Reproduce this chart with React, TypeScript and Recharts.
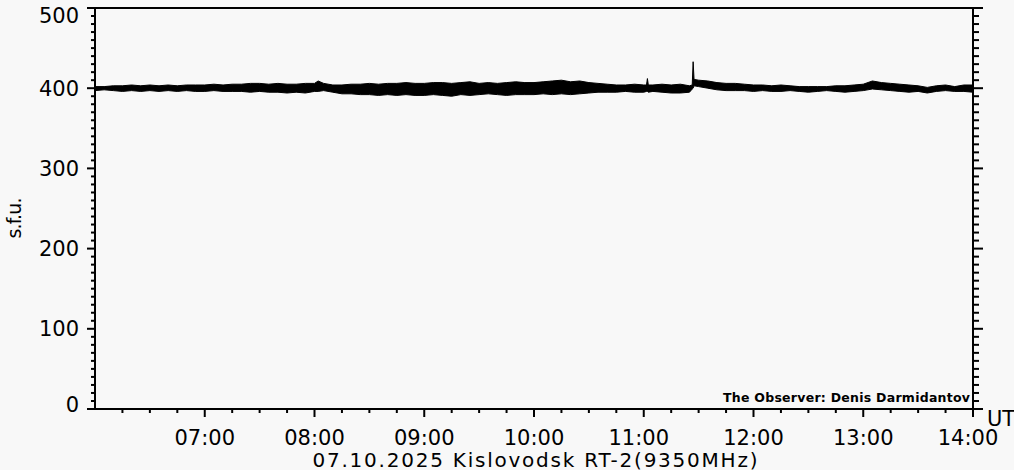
import React from 'react';
import { ComposedChart, Area, XAxis, YAxis } from 'recharts';

// time in minutes after 00:00 UT
const times = [
  360, 365, 370, 375, 380, 385, 390, 395, 400, 405, 410, 415,
  420, 425, 430, 435, 440, 445, 450, 455, 460, 465, 470, 475,
  480, 482, 485, 490, 495, 500, 505, 510, 515, 520, 525, 530, 535,
  540, 545, 550, 555, 560, 565, 570, 575, 580, 585, 590, 595,
  600, 605, 610, 615, 620, 625, 630, 635, 640, 645, 650, 655,
  660, 661.5, 662, 662.5, 665, 670, 675, 680, 685, 686.5, 687, 687.5, 690, 695, 700, 705, 710, 715,
  720, 725, 730, 735, 740, 745, 750, 755, 760, 765, 770, 775,
  780, 785, 790, 795, 800, 805, 810, 815, 820, 825, 830, 835, 840,
];
const fluxLow = [
  397, 398, 397, 396, 397, 396, 397, 396, 397, 396, 397, 396,
  396, 397, 396, 396, 396, 395, 396, 395, 395, 394, 395, 394,
  396, 396, 397, 395, 393, 393, 392, 392, 391, 392, 391, 392, 391,
  391, 392, 391, 390, 392, 391, 392, 393, 392, 391, 392, 392,
  392, 393, 392, 393, 392, 393, 394, 395, 395, 395, 396, 395,
  395, 396, 396, 395, 396, 395, 394, 394, 395, 399, 400, 403, 402, 400, 398, 397, 397, 397,
  396, 397, 396, 396, 397, 396, 395, 396, 397, 396, 395, 396,
  397, 399, 398, 397, 396, 395, 396, 394, 396, 397, 396, 396, 395,
];
const fluxHigh = [
  402, 402, 403, 403, 404, 403, 404, 403, 404, 403, 404, 404,
  404, 405, 404, 405, 405, 406, 406, 405, 406, 405, 405, 406,
  406, 409, 406, 404, 404, 405, 405, 406, 405, 406, 406, 407, 406,
  406, 407, 407, 406, 407, 408, 406, 407, 406, 407, 408, 407,
  407, 408, 409, 410, 408, 409, 407, 406, 405, 404, 404, 405,
  404, 404, 412, 404, 404, 405, 404, 405, 403, 404, 433, 411, 410, 409, 407, 406, 406, 405,
  404, 404, 403, 404, 403, 402, 402, 402, 402, 403, 403, 404,
  405, 409, 407, 406, 405, 404, 403, 401, 403, 404, 402, 404, 404,
];

const xTicks = [
  375, 390, 405, 420, 435, 450, 465, 480, 495, 510, 525, 540, 555, 570, 585, 600,
  615, 630, 645, 660, 675, 690, 705, 720, 735, 750, 765, 780, 795, 810, 825, 840,
];
const xLabelTicks = [420, 480, 540, 600, 660, 720, 780, 840];
const xLabels = ['07:00', '08:00', '09:00', '10:00', '11:00', '12:00', '13:00', '14:00'];
const yTicks = [
  0, 10, 20, 30, 40, 50, 60, 70, 80, 90, 100, 110, 120, 130, 140, 150, 160, 170, 180, 190,
  200, 210, 220, 230, 240, 250, 260, 270, 280, 290, 300, 310, 320, 330, 340, 350, 360, 370,
  380, 390, 400, 410, 420, 430, 440, 450, 460, 470, 480, 490, 500,
];
const yLabelTicks = [0, 100, 200, 300, 400, 500];

const data = times.map((t, i) => ({ t, band: [fluxLow[i], fluxHigh[i]] }));

const FONT = '"DejaVu Sans", sans-serif';
const INK = '#000000';

const BottomTick = (props: any) => {
  const { x, y, payload } = props;
  const v = payload.value;
  const idx = xLabelTicks.indexOf(v);
  const major = idx >= 0;
  const nudge = v === 840 || v === 660 ? -5 : 0;
  return (
    <g>
      <line x1={x} x2={x} y1={y} y2={y + (major ? 8 : 4)} stroke={INK} strokeWidth={2} />
      {major && (
        <text x={x + nudge} y={y + 36} textAnchor="middle" fontSize={21} fontFamily={FONT} fill={INK}>
          {xLabels[idx]}
        </text>
      )}
    </g>
  );
};

const TopTick = (props: any) => {
  const { x, y, payload } = props;
  const major = xLabelTicks.indexOf(payload.value) >= 0;
  return <line x1={x} x2={x} y1={y} y2={y - (major ? 8 : 3)} stroke={INK} strokeWidth={2} />;
};

const LeftTick = (props: any) => {
  const { x, y, payload } = props;
  const v = payload.value;
  const major = yLabelTicks.indexOf(v) >= 0;
  const shift = v === 500 ? 7 : v === 0 ? -5 : 0;
  return (
    <g>
      <line x1={x - (major ? 8 : 4)} x2={x} y1={y} y2={y} stroke={INK} strokeWidth={2} />
      {major && (
        <text x={x - 16} y={y + shift} dy="0.36em" textAnchor="end" fontSize={21} fontFamily={FONT} fill={INK}>
          {String(v)}
        </text>
      )}
    </g>
  );
};

const RightTick = (props: any) => {
  const { x, y, payload } = props;
  const major = yLabelTicks.indexOf(payload.value) >= 0;
  return <line x1={x} x2={x + (major ? 10 : 6)} y1={y} y2={y} stroke={INK} strokeWidth={2} />;
};

export default function App() {
  return (
    <div style={{ position: 'absolute', left: 0, top: 0, width: 1014, height: 470, background: '#f8f8f8' }}>
      <ComposedChart width={1014} height={470} data={data} margin={{ top: 0, right: 31, bottom: 31, left: 35 }}>
        <XAxis
          xAxisId="b"
          type="number"
          dataKey="t"
          domain={[360, 840]}
          allowDataOverflow
          ticks={xTicks}
          interval={0}
          tickSize={0}
          tickMargin={0}
          tickLine={false}
          tick={<BottomTick />}
          axisLine={{ stroke: INK, strokeWidth: 2 }}
          height={30}
        />
        <XAxis
          xAxisId="t"
          orientation="top"
          type="number"
          domain={[360, 840]}
          allowDataOverflow
          ticks={xTicks}
          interval={0}
          tickSize={0}
          tickMargin={0}
          tickLine={false}
          tick={<TopTick />}
          axisLine={{ stroke: INK, strokeWidth: 2 }}
          height={8}
        />
        <YAxis
          yAxisId="l"
          type="number"
          domain={[0, 500]}
          allowDataOverflow
          ticks={yTicks}
          interval={0}
          tickSize={0}
          tickMargin={0}
          tickLine={false}
          tick={<LeftTick />}
          axisLine={{ stroke: INK, strokeWidth: 2 }}
          width={60}
        />
        <YAxis
          yAxisId="r"
          orientation="right"
          type="number"
          domain={[0, 500]}
          allowDataOverflow
          ticks={yTicks}
          interval={0}
          tickSize={0}
          tickMargin={0}
          tickLine={false}
          tick={<RightTick />}
          axisLine={{ stroke: INK, strokeWidth: 2 }}
          width={10}
        />
        <Area
          xAxisId="b"
          yAxisId="l"
          type="linear"
          dataKey="band"
          stroke={INK}
          strokeWidth={1}
          fill={INK}
          fillOpacity={1}
          dot={false}
          activeDot={false}
          isAnimationActive={false}
        />
      </ComposedChart>
      <svg width={1014} height={470} style={{ position: 'absolute', left: 0, top: 0, pointerEvents: 'none' }}>
        <text x={535} y={467} textAnchor="middle" fontSize={20} fontFamily={FONT} fill={INK} textLength={445} lengthAdjust="spacing">
          07.10.2025 Kislovodsk RT-2(9350MHz)
        </text>
        <text x={987} y={426} fontSize={21} fontFamily={FONT} fill={INK}>UT</text>
        <text x={970} y={402} textAnchor="end" fontSize={12.5} fontWeight="bold" fontFamily={FONT} fill={INK} textLength={247} lengthAdjust="spacing">
          The Observer: Denis Darmidantov
        </text>
        <text x={21} y={218} textAnchor="middle" fontSize={19} fontFamily={FONT} fill={INK} transform="rotate(-90, 21, 218)" textLength={41} lengthAdjust="spacing">
          s.f.u.
        </text>
      </svg>
    </div>
  );
}
